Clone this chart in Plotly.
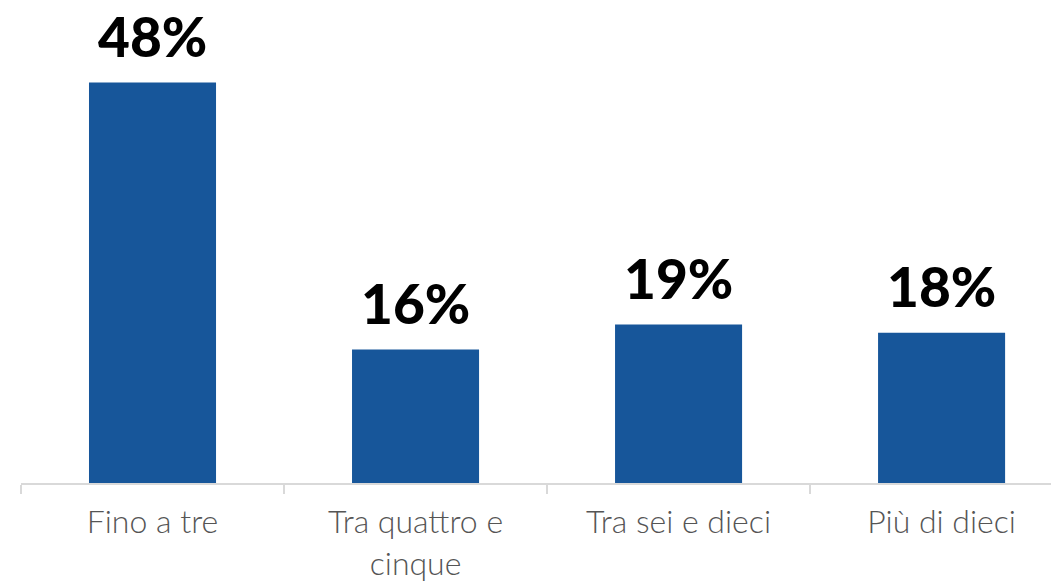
import plotly.graph_objects as go

categories = ["Fino a tre", "Tra quattro e<br>cinque", "Tra sei e dieci", "Più di dieci"]
values = [48, 16, 19, 18]
labels = [f"{v}%" for v in values]

BAR_COLOR = "#17569A"

fig = go.Figure(
    go.Bar(
        x=categories,
        y=values,
        width=0.483,
        marker=dict(color=BAR_COLOR, line=dict(width=0)),
        hoverinfo="skip",
    )
)

for cat, v, t in zip(categories, values, labels):
    fig.add_annotation(
        x=cat, y=v, text=t, showarrow=False,
        yanchor="bottom", yshift=12,
        font=dict(family="Lato", size=55, color="#000000", weight=900),
    )

fig.update_layout(
    width=1051, height=582,
    margin=dict(l=21, r=0, t=0, b=97),
    plot_bgcolor="white", paper_bgcolor="white",
    showlegend=False,
    xaxis=dict(
        type="category",
        range=[-0.5, 3.416],
        tickson="boundaries",
        ticks="outside", ticklen=9, tickwidth=2, tickcolor="#D9D9D9",
        showline=True, linecolor="#D9D9D9", linewidth=2,
        showgrid=False, zeroline=False,
        ticklabelstandoff=10,
        tickfont=dict(family="Lato", size=32, color="#555555", weight=300),
    ),
    yaxis=dict(
        range=[0, 57.9], visible=False, showgrid=False, zeroline=False,
    ),
)

fig.write_html("out.html")
